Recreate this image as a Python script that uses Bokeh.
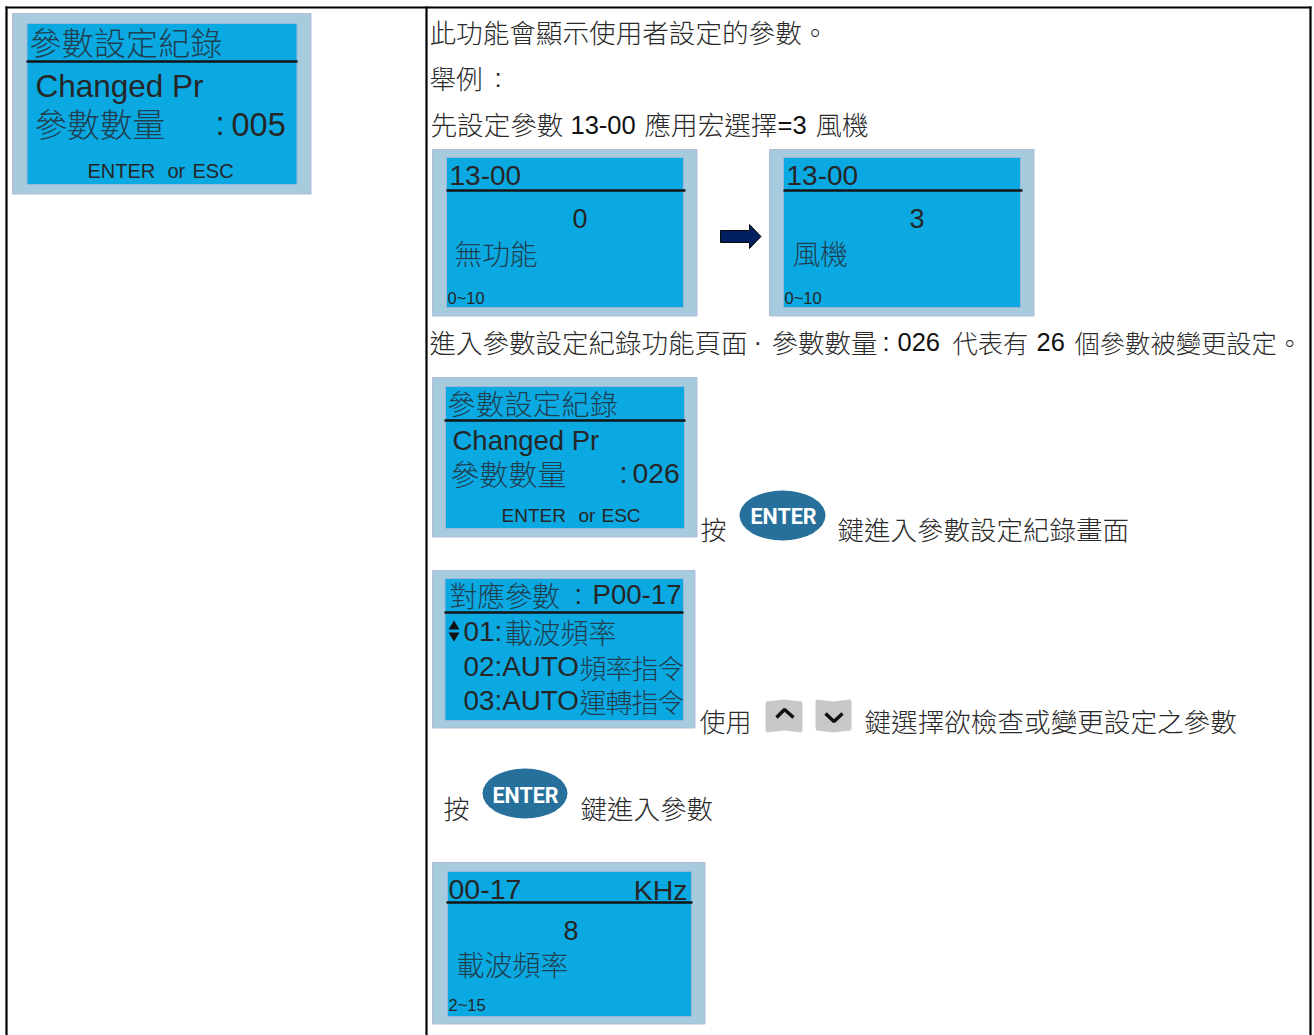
from bokeh.plotting import figure
from bokeh.embed import file_html
from bokeh.resources import INLINE
from bokeh.core.properties import value
from bokeh.models import Range1d

# ---- text content ----
LINE_INTRO = "此功能會顯示使用者設定的參數。"
LINE_EXAMPLE = "舉例"
LINE_SET = ["先設定參數", "13-00", "應用宏選擇", "=3", "風機"]
LINE_ENTER = ["進入參數設定紀錄功能頁面", "·", "參數數量", ":", "026", "代表有", "26", "個參數被變更設定。"]
PRESS_1 = ["按", "鍵進入參數設定紀錄畫面"]
USE_KEYS = ["使用", "鍵選擇欲檢查或變更設定之參數"]
PRESS_2 = ["按", "鍵進入參數"]
KEY_LABEL = "ENTER"
RECORD_TITLE = "參數設定紀錄"
CHANGED = "Changed Pr"
COUNT_LABEL = "參數數量"
COUNT_A = "005"
COUNT_B = "026"
ENTER_ESC = ["ENTER", "or", "ESC"]
PARAM_ID = "13-00"
RANGE_A = "0~10"
VALUE_A, NAME_A = "0", "無功能"
VALUE_B, NAME_B = "3", "風機"
MAP_TITLE = ["對應參數", ":", "P00-17"]
MAP_ROWS = [("01:", "載波頻率"), ("02:AUTO", "頻率指令"), ("03:AUTO", "運轉指令")]
DETAIL = ["00-17", "KHz", "8", "載波頻率", "2~15"]

CJK = "Noto Sans CJK TC Light"
LAT = "Liberation Sans"
INK = "#262626"
BASE = 0.38  # baseline correction of the svg text, in em
NUDGE = 1.0  # side bearing correction of left-aligned text, in px

p = figure(width=1314, height=1035, output_backend="svg", toolbar_location=None,
           x_range=Range1d(0, 1314), y_range=Range1d(1035, 0),
           min_border=0, outline_line_color=None, x_axis_location=None, y_axis_location=None)
p.grid.visible = False
p.styles = {"position": "absolute", "left": "0", "top": "0"}


def t(x, y, s, size=26, font=CJK, color="#2a2a2a", style="normal", align="left"):
    p.text([x - NUDGE], [y - BASE * size], text=[s], text_font=value(font), text_font_size=f"{size}px",
           text_color=color, text_font_style=style, text_baseline="alphabetic", text_align=align)


def spaced(x, y, s, pitch, size, font=CJK, color="#1f4050"):
    xs = [x - NUDGE + i * pitch for i in range(len(s))]
    p.text(xs, [y - BASE * size] * len(s), text=list(s), text_font=value(font), text_font_size=f"{size}px",
           text_color=color, text_baseline="alphabetic", text_align="left")


def rect(x0, y0, x1, y1, color, line=None, w=1):
    p.quad(left=[x0], right=[x1], top=[y0], bottom=[y1], fill_color=color,
           line_color=line, line_width=w)


def panel(outer, inner, rule_y, rule_x):
    x0, y0, x1, y1 = outer
    rect(x0, y0, x1 - 0.5, y1 - 0.5, "#A5CBDD", "#B4BAD8")
    rect(*inner, "#0BA9E2", "#9FB4DC")
    p.line(list(rule_x), [rule_y, rule_y], line_color="#141414", line_width=2.5)


def key(x0, x1, y0, y1, tx, ty):
    p.ellipse([(x0 + x1) / 2], [(y0 + y1) / 2], width=x1 - x0, height=y1 - y0,
              fill_color="#27709C", line_color=None)
    t(tx, ty, KEY_LABEL, 21.5, "Roboto", "#ffffff", "bold")


def enter_esc(xs, y, size):
    for x, s in zip(xs, ENTER_ESC):
        t(x, y, s, size, LAT, INK)


# table rules
p.line([5, 1311], [7, 7], line_color="#000000", line_width=2.2)
p.line([6, 6], [6, 1035], line_color="#000000", line_width=2.2)
p.line([426, 426], [6, 1035], line_color="#000000", line_width=2.2)
p.line([1310, 1310], [6, 1035], line_color="#000000", line_width=2.2)

# left panel
panel((12, 13, 311, 194), (26.5, 23, 296.5, 184), 61, (26, 297))
spaced(30, 53, RECORD_TITLE, 32.2, 32)
t(36, 97, CHANGED, 31.5, LAT, INK)
spaced(35, 135, COUNT_LABEL, 32.6, 33)
t(216, 136, ":", 33, LAT, INK)
t(232, 136, COUNT_A, 32.5, LAT, INK)
enter_esc((88, 168, 193), 178, 20)

# body text
t(430, 41, LINE_INTRO, 26.6)
t(430, 87, LINE_EXAMPLE, 26.6)
t(495, 87, ":", 26, LAT)
t(431, 133, LINE_SET[0], 26.6)
t(571, 134, LINE_SET[1], 25.5, LAT, "#111111")
t(645, 133, LINE_SET[2], 26.6)
t(778, 134, LINE_SET[3], 25.5, LAT, "#111111")
t(816, 133, LINE_SET[4], 26.6)

# 13-00 panels
for dx, val, name, nx, vx in ((0, VALUE_A, NAME_A, 455, 573), (337, VALUE_B, NAME_B, 793, 910)):
    panel((432 + dx, 149, 697 + dx, 316), (446 + dx, 157, 683 + dx, 307), 190, (446 + dx, 685 + dx))
    t(450 + dx, 186, PARAM_ID, 28, LAT, INK)
    t(vx, 228, val, 27, LAT, INK)
    spaced(nx, 263, name, 27.5, 28)
    t(448 + dx, 304, RANGE_A, 16.5, LAT, INK)

# arrow
p.patch([720, 749, 749, 760.5, 749, 749, 720], [230, 230, 224, 236, 248, 242, 242],
        fill_color="#002060", line_color="#0a0a0a", line_width=1)

t(430, 351, LINE_ENTER[0], 26.5)
t(754, 351, LINE_ENTER[1], 26, LAT)
t(772, 351, LINE_ENTER[2], 26.5)
t(883, 351, LINE_ENTER[3], 25.5, LAT, "#111111")
t(898, 351, LINE_ENTER[4], 25.5, LAT, "#111111")
t(953, 351, LINE_ENTER[5], 25.3)
t(1037, 351, LINE_ENTER[6], 25.5, LAT, "#111111")
t(1075, 351, LINE_ENTER[7], 25.3)

# record panel
panel((432, 377, 697, 537), (445, 386, 684, 528), 420, (444, 685))
spaced(448, 413, RECORD_TITLE, 28.5, 28)
t(453, 450, CHANGED, 27.5, LAT, INK)
spaced(451, 484, COUNT_LABEL, 29, 29)
t(620, 484, ":", 29, LAT, INK)
t(633, 484, COUNT_B, 28.3, LAT, INK)
enter_esc((502, 579, 602), 522, 19)

t(701, 538, PRESS_1[0], 26)
key(739, 825, 490, 540, 751, 524)
t(838, 538, PRESS_1[1], 26.5)

# mapping panel
panel((432, 570, 695, 728), (444.5, 578, 683, 720), 612, (444, 683))
spaced(450, 605, MAP_TITLE[0], 27.5, 28)
t(575, 604, MAP_TITLE[1], 27.5, LAT, INK)
t(593, 604, MAP_TITLE[2], 27.6, LAT, INK)
p.patch([448, 453.5, 459], [629, 620, 629], fill_color="#111111", line_color=None)
p.patch([448, 453.5, 459], [632, 641, 632], fill_color="#111111", line_color=None)
for (lat, cjk), y, cx, pitch in zip(MAP_ROWS, (642, 677, 711), (505, 580, 580), (28, 26, 26)):
    t(464, y, lat, 27.8, LAT, INK)
    spaced(cx, y, cjk, pitch, 27 if pitch == 26 else 28)

t(700, 730, USE_KEYS[0], 26)
# up / down keys
p.patch([765, 766, 784, 801, 802, 802, 801, 784, 766, 765],
        [703, 701, 699, 701, 703, 730, 732, 730, 732, 730], fill_color="#C8C8C8", line_color=None)
p.patch([815, 816, 833, 850, 851, 851, 850, 833, 816, 815],
        [701, 699, 701, 699, 701, 728, 730, 732, 730, 728], fill_color="#C8C8C8", line_color=None)
p.line([776, 784, 793], [717, 709, 717], line_color="#111111", line_width=3.5)
p.line([825, 833.5, 842], [713, 721, 713], line_color="#111111", line_width=3.5)
t(865, 730, USE_KEYS[1], 26.6)

t(444, 817, PRESS_2[0], 26)
key(482, 567, 768, 818, 493, 803)
t(581, 817, PRESS_2[1], 26.5)

# detail panel
panel((432, 862, 705, 1024), (447, 871, 691, 1016), 902, (446, 692))
t(449, 900, DETAIL[0], 28.5, LAT, INK)
t(688, 900, DETAIL[1], 28.5, LAT, INK, align="right")
t(564, 940, DETAIL[2], 27, LAT, INK)
spaced(457, 974, DETAIL[3], 28, 28)
t(449, 1011, DETAIL[4], 16.5, LAT, INK)

open("out.html", "w").write(file_html(p, INLINE))
